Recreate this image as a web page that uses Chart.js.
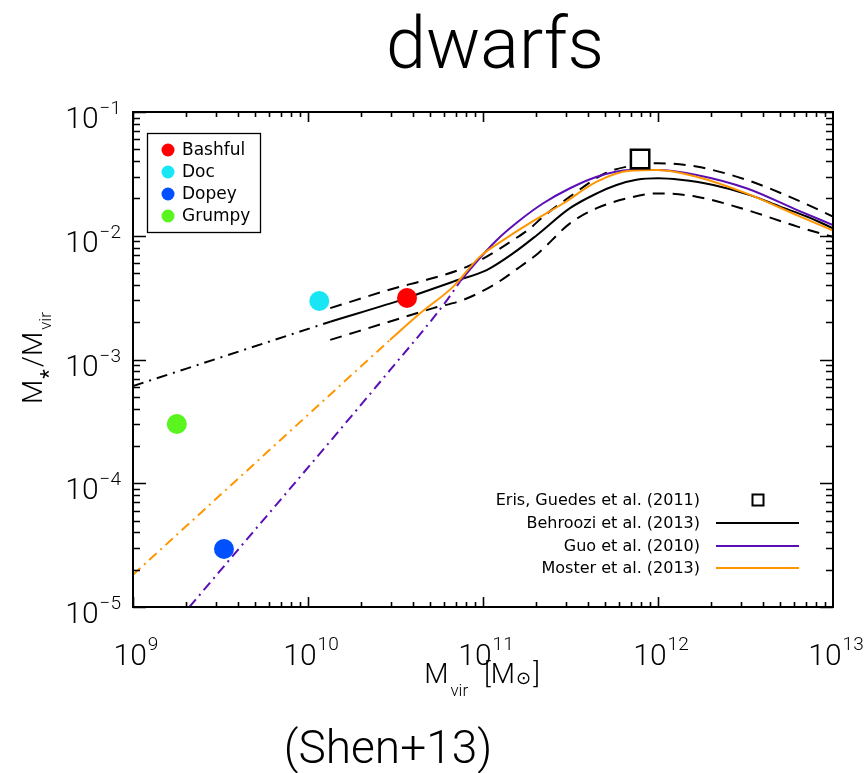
<!DOCTYPE html>
<html><head><meta charset="utf-8">
<script src="https://cdn.jsdelivr.net/npm/chart.js@4.4.1/dist/chart.umd.min.js"></script>
<style>html,body{margin:0;padding:0;background:#fff;}#wrap{width:867px;height:773px;}</style>
</head><body><div id="wrap"><canvas id="c" width="867" height="773"></canvas></div>
<script>
// ---------- data ----------
const dwarfNames = ['Bashful', 'Doc', 'Dopey', 'Grumpy'];
const dwarfMvir  = [3.68e10, 1.16e10, 3.31e9, 1.78e9];
const dwarfRatio = [3.14e-3, 2.97e-3, 2.94e-5, 3.01e-4];

const erisMvir  = [7.9e11];
const erisRatio = [4.17e-2];

const behrooziExtMvir  = [1e9, 1.34e10];
const behrooziExtRatio = [6.1e-4, 2.02e-3];
const behrooziMvir  = [1.34e10, 3.66e10, 4.37e10, 6.76e10, 1.05e11, 1.49e11, 2.03e11, 3.14e11, 4.47e11, 5.8e11, 7.53e11, 1.0e12, 1.34e12, 2.07e12, 3.36e12, 4.98e12, 7.08e12, 1.0e13];
const behrooziRatio = [2.02e-3, 3.13e-3, 3.43e-3, 4.26e-3, 5.28e-3, 7.23e-3, 1.01e-2, 1.67e-2, 2.2e-2, 2.57e-2, 2.83e-2, 2.91e-2, 2.83e-2, 2.57e-2, 2.13e-2, 1.72e-2, 1.43e-2, 1.15e-2];
const behrooziUpMvir  = [1.34e10, 3.36e10, 4.37e10, 7.7e10, 1.05e11, 1.49e11, 1.86e11, 2.21e11, 3.14e11, 5.0e11, 7.53e11, 1.0e12, 1.66e12, 3.2e12, 6.2e12, 1.0e13];
const behrooziUpRatio = [2.6e-3, 3.88e-3, 4.26e-3, 5.45e-3, 6.78e-3, 9.25e-3, 1.15e-2, 1.43e-2, 2.07e-2, 3.2e-2, 3.73e-2, 3.85e-2, 3.62e-2, 2.83e-2, 1.95e-2, 1.43e-2];
const behrooziLoMvir  = [1.34e10, 3.36e10, 5.2e10, 7.7e10, 1.15e11, 1.63e11, 2.07e11, 3.14e11, 4.47e11, 6.7e11, 1.0e12, 1.66e12, 3.2e12, 6.2e12, 1.0e13];
const behrooziLoRatio = [1.44e-3, 2.15e-3, 2.6e-3, 3.03e-3, 4.0e-3, 5.62e-3, 7.23e-3, 1.26e-2, 1.67e-2, 2.01e-2, 2.2e-2, 2.07e-2, 1.62e-2, 1.19e-2, 9.8e-3];

const guoExtMvir  = [2.1e9, 2.94e10, 5.93e10, 7.4e10];
const guoExtRatio = [1.0e-5, 8.2e-4, 2.75e-3, 4.27e-3];
const guoMvir  = [7.4e10, 8.8e10, 1.2e11, 1.63e11, 2.21e11, 3.14e11, 4.47e11, 6.9e11, 1.0e12, 1.66e12, 3.2e12, 6.2e12, 1.0e13];
const guoRatio = [4.27e-3, 5.75e-3, 9.25e-3, 1.34e-2, 1.83e-2, 2.42e-2, 3.0e-2, 3.4e-2, 3.4e-2, 3.1e-2, 2.42e-2, 1.62e-2, 1.22e-2];

const mosterExtMvir  = [1e9, 2.94e10];
const mosterExtRatio = [1.82e-5, 1.44e-3];
const mosterMvir  = [2.94e10, 4.37e10, 6.76e10, 9.6e10, 1.31e11, 1.86e11, 2.88e11, 4.47e11, 6.9e11, 1.0e12, 1.66e12, 3.2e12, 6.2e12, 1.0e13];
const mosterRatio = [1.44e-3, 2.36e-3, 3.88e-3, 6.78e-3, 9.25e-3, 1.27e-2, 1.83e-2, 2.74e-2, 3.35e-2, 3.4e-2, 3.0e-2, 2.2e-2, 1.47e-2, 1.1e-2];

const refLabels = ['Eris, Guedes et al. (2011)', 'Behroozi et al. (2013)', 'Guo et al. (2010)', 'Moster et al. (2013)'];

const xTickValues = [1e9, 1e10, 1e11, 1e12, 1e13];
const xTickExps   = ['9', '10', '11', '12', '13'];
const yTickValues = [1e-1, 1e-2, 1e-3, 1e-4, 1e-5];
const yTickExps   = ['\u22121', '\u22122', '\u22123', '\u22124', '\u22125'];

const titleText = 'dwarfs';
const footText = '(Shen+13)';

// ---------- helpers ----------
const zip = (xs, ys) => xs.map((x, i) => ({x: x, y: ys[i]}));
const COL = {red:'#ff0000', cyan:'#19e6f5', blue:'#0050ff', green:'#5af51e', purple:'#5a0fb4', orange:'#ff9600'};
const dwarfColors = [COL.red, COL.cyan, COL.blue, COL.green];
const DASHDOT = [10, 5, 2, 5];

function lineDs(data, color, dash, w) {
  return {data: data, showLine: true, borderColor: color, borderWidth: w || 2, borderDash: dash || [],
          pointRadius: 0, fill: false, cubicInterpolationMode: 'monotone'};
}

const datasets = [];
dwarfMvir.forEach((m, i) => datasets.push({label: dwarfNames[i], data: [{x: m, y: dwarfRatio[i]}],
  pointRadius: 10, pointBackgroundColor: dwarfColors[i], pointBorderWidth: 0, pointBorderColor: dwarfColors[i], showLine: false}));
datasets.push({label: refLabels[0], data: zip(erisMvir, erisRatio), pointStyle: 'rect', pointRadius: 13,
  pointBackgroundColor: '#fff', pointBorderColor: '#000', pointBorderWidth: 2.5, showLine: false});
datasets.push(lineDs(zip(mosterMvir, mosterRatio), COL.orange));
datasets.push(lineDs(zip(mosterExtMvir, mosterExtRatio), COL.orange, DASHDOT));
datasets.push(lineDs(zip(guoMvir, guoRatio), COL.purple));
datasets.push(lineDs(zip(guoExtMvir, guoExtRatio), COL.purple, DASHDOT));
datasets.push(lineDs(zip(behrooziMvir, behrooziRatio), '#000'));
datasets.push(lineDs(zip(behrooziUpMvir, behrooziUpRatio), '#000', [12, 8]));
datasets.push(lineDs(zip(behrooziLoMvir, behrooziLoRatio), '#000', [12, 8]));
datasets.push(lineDs(zip(behrooziExtMvir, behrooziExtRatio), '#000', [11, 6, 2, 6]));

function rich(ctx, parts, x, y, align) {
  let w = 0;
  parts.forEach(p => { ctx.font = p.font; p.w = ctx.measureText(p.t).width; w += p.w + (p.gap || 0); });
  let cx = align === 'center' ? x - w / 2 : (align === 'right' ? x - w : x);
  ctx.textAlign = 'left'; ctx.textBaseline = 'alphabetic';
  parts.forEach(p => { ctx.font = p.font; ctx.fillText(p.t, cx, y + (p.dy || 0)); cx += p.w + (p.gap || 0); });
}

const TF = 'Roboto, "Liberation Sans", Arial, sans-serif';
const LT = '300 ';
const LF = '"DejaVu Sans", sans-serif';

const deco = {
  id: 'deco',
  beforeDraw(chart) {
    const ctx = chart.ctx; ctx.save(); ctx.fillStyle = '#fff'; ctx.fillRect(0, 0, chart.width, chart.height); ctx.restore();
  },
  afterDraw(chart) {
    const ctx = chart.ctx, a = chart.chartArea, xs = chart.scales.x, ys = chart.scales.y;
    ctx.save();
    ctx.strokeStyle = '#000'; ctx.fillStyle = '#000';
    // frame
    ctx.lineWidth = 2;
    ctx.strokeRect(a.left, a.top, a.right - a.left, a.bottom - a.top);
    // ticks
    ctx.lineWidth = 1.6;
    ctx.beginPath();
    for (let e = 9; e < 13; e++) {
      for (let k = 1; k <= 9; k++) {
        const v = k * Math.pow(10, e);
        const px = Math.round(xs.getPixelForValue(v)) + 0.5;
        const len = k === 1 ? 10 : 5;
        ctx.moveTo(px, a.bottom); ctx.lineTo(px, a.bottom - len);
        ctx.moveTo(px, a.top); ctx.lineTo(px, a.top + len);
      }
    }
    for (let e = -5; e < -1 + 0.5; e++) {
      for (let k = 1; k <= 9; k++) {
        const v = k * Math.pow(10, e);
        if (v > 0.1000001) continue;
        const py = Math.round(ys.getPixelForValue(v)) + 0.5;
        const len = k === 1 ? 13 : 7;
        ctx.moveTo(a.left, py); ctx.lineTo(a.left + len, py);
        ctx.moveTo(a.right, py); ctx.lineTo(a.right - len, py);
      }
    }
    ctx.stroke();
    // tick labels
    xTickValues.forEach((v, i) => {
      const px = xs.getPixelForValue(v);
      rich(ctx, [{t: '10', font: LT + '30px ' + TF, gap: 1}, {t: xTickExps[i], font: LT + '19px ' + TF, dy: -15}],
           px + 3, a.bottom + 58, 'center');
    });
    yTickValues.forEach((v, i) => {
      const py = ys.getPixelForValue(v);
      rich(ctx, [{t: '10', font: LT + '30px ' + TF, gap: 1}, {t: yTickExps[i], font: LT + '19px ' + TF, dy: -14}], a.left - 12, py + 16, 'right');
    });
    // axis titles
    rich(ctx, [{t: 'M', font: LT + '28px ' + TF, gap: 2}, {t: 'vir', font: LT + '17px ' + TF, dy: 13, gap: 16},
               {t: '[M', font: LT + '28px ' + TF, gap: 1}, {t: '\u2299', font: '18px "DejaVu Sans"', dy: 1, gap: 2},
               {t: ']', font: LT + '28px ' + TF}], 482, 683, 'center');
    ctx.save();
    ctx.translate(42, 358); ctx.rotate(-Math.PI / 2);
    rich(ctx, [{t: 'M', font: LT + '28px ' + TF, gap: 1}, {t: '*', font: '22px ' + TF, dy: 14, gap: 2},
               {t: '/M', font: LT + '28px ' + TF, gap: 2}, {t: 'vir', font: LT + '17px ' + TF, dy: 9}], 0, 0, 'center');
    ctx.restore();
    // title and footer
    ctx.font = LT + '72px ' + TF; ctx.textAlign = 'center'; ctx.textBaseline = 'alphabetic';
    ctx.fillText(titleText, 495, 68);
    ctx.font = LT + '46px ' + TF;
    ctx.fillText(footText, 388, 763);
    // top-left legend
    ctx.lineWidth = 1.3; ctx.strokeStyle = '#000';
    ctx.strokeRect(147.5, 133.5, 113, 99);
    dwarfNames.forEach((n, i) => {
      const cy = 150 + i * 22;
      ctx.beginPath(); ctx.fillStyle = dwarfColors[i]; ctx.arc(168, cy, 6.5, 0, Math.PI * 2); ctx.fill();
      ctx.fillStyle = '#000'; ctx.font = '17px ' + LF; ctx.textAlign = 'left'; ctx.textBaseline = 'middle';
      ctx.fillText(n, 182, cy + 1);
    });
    // bottom-right legend
    const rowY = [500, 523, 546, 568];
    const lineCols = [null, '#000', COL.purple, COL.orange];
    refLabels.forEach((t, i) => {
      ctx.fillStyle = '#000'; ctx.font = '16px ' + LF; ctx.textAlign = 'right'; ctx.textBaseline = 'middle';
      ctx.fillText(t, 700, rowY[i] + 1);
      if (i === 0) {
        ctx.lineWidth = 2; ctx.strokeStyle = '#000'; ctx.strokeRect(752.5, rowY[i] - 5.5, 11, 11);
      } else {
        ctx.lineWidth = 2; ctx.strokeStyle = lineCols[i];
        ctx.beginPath(); ctx.moveTo(716, rowY[i]); ctx.lineTo(799, rowY[i]); ctx.stroke();
      }
    });
    ctx.restore();
  }
};

new Chart(document.getElementById('c'), {
  type: 'scatter',
  data: {datasets: datasets},
  options: {
    responsive: false, animation: false, devicePixelRatio: 1,
    layout: {padding: {left: 133, top: 112, right: 34, bottom: 166}},
    plugins: {legend: {display: false}, tooltip: {enabled: false}, title: {display: false}},
    scales: {
      x: {type: 'logarithmic', min: 1e9, max: 1e13, display: false},
      y: {type: 'logarithmic', min: 1e-5, max: 1e-1, display: false}
    }
  },
  plugins: [deco]
});
</script>
</body></html>
